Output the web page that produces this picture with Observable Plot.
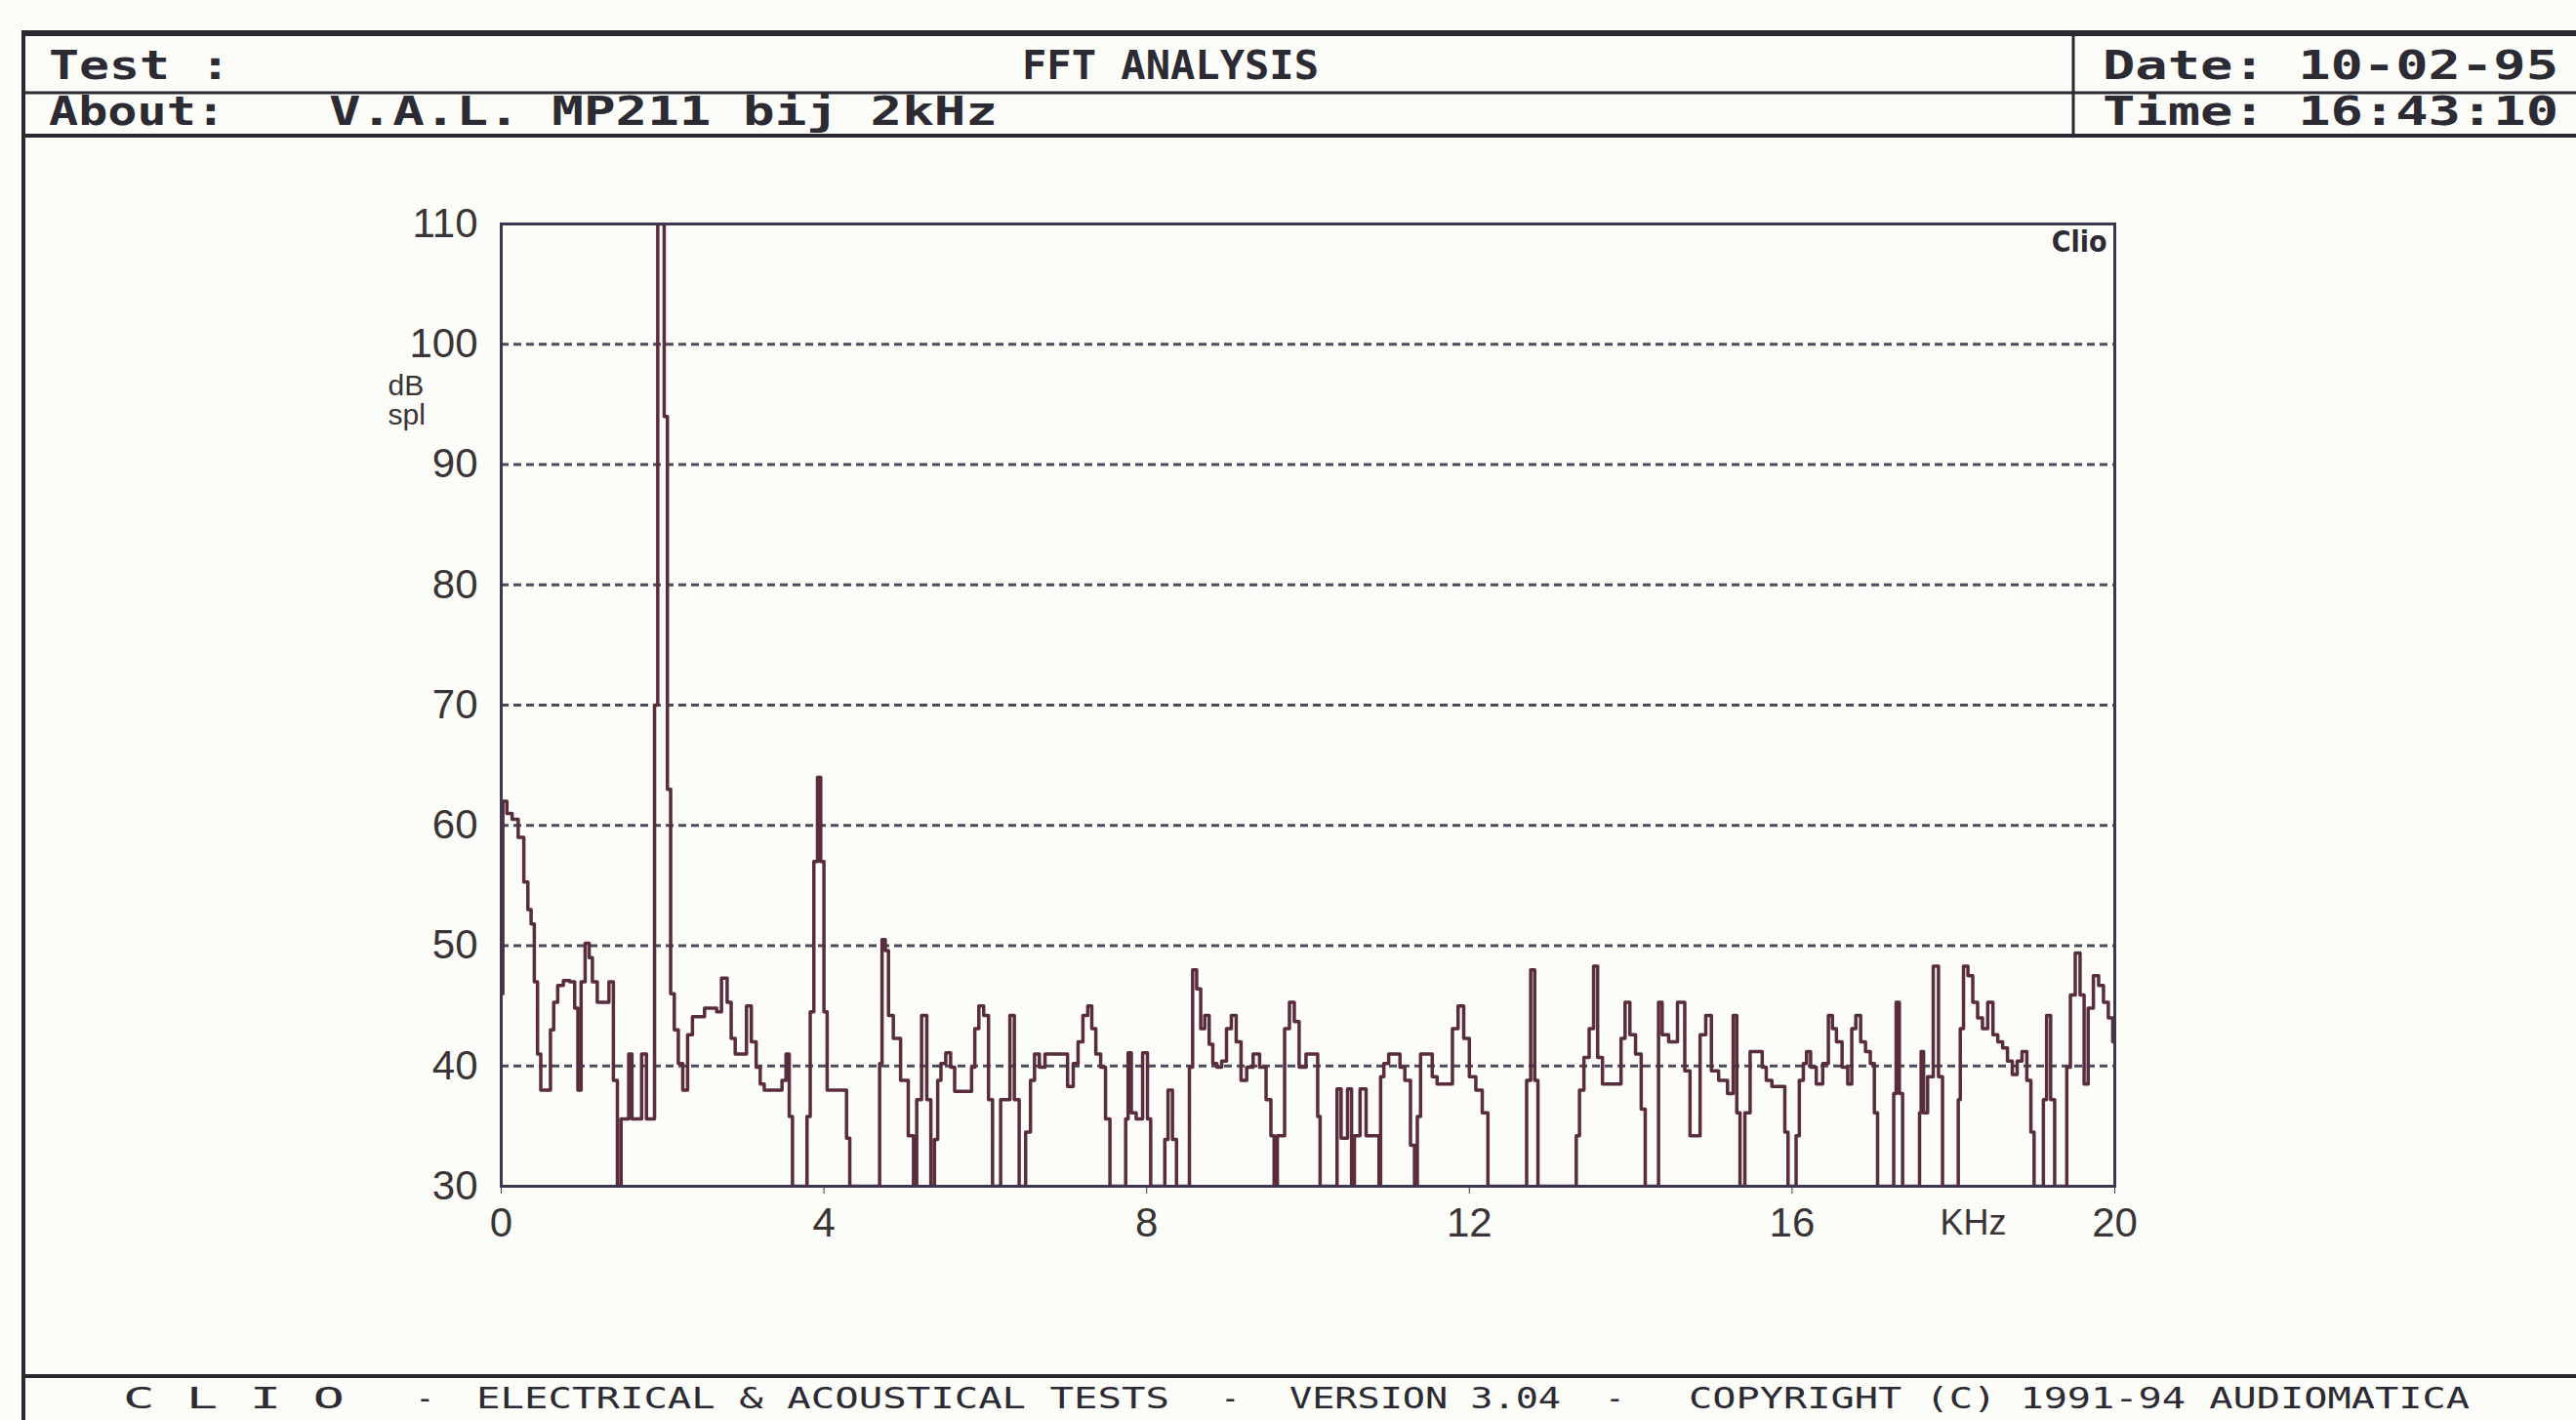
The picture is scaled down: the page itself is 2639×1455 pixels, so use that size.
<!DOCTYPE html>
<html>
<head>
<meta charset="utf-8">
<script src="https://cdn.jsdelivr.net/npm/d3@7"></script>
<script src="https://cdn.jsdelivr.net/npm/@observablehq/plot@0.6"></script>
<style>
  html, body { margin: 0; padding: 0; background: #fcfcf8; }
  #wrap { position: relative; width: 2639px; height: 1455px; overflow: hidden; background: #fcfcf8; }
  #deco { position: absolute; left: 0; top: 0; }
  #chart { position: absolute; left: 0; top: 0; }
  .dos { font-family: "DejaVu Sans Mono", monospace; font-weight: bold; fill: #2c2a33; }
</style>
</head>
<body>
<div id="wrap">
  <svg id="deco" width="2639" height="1455" xmlns="http://www.w3.org/2000/svg">
    <g stroke="#2a2830" fill="none">
      <line x1="22" y1="34" x2="2639" y2="34" stroke-width="6"/>
      <line x1="24" y1="32" x2="24" y2="1455" stroke-width="4"/>
      <line x1="24" y1="95" x2="2639" y2="95" stroke-width="3"/>
      <line x1="24" y1="139" x2="2639" y2="139" stroke-width="4"/>
      <line x1="2124" y1="34" x2="2124" y2="139" stroke-width="3"/>
      <line x1="24" y1="1410" x2="2639" y2="1410" stroke-width="4"/>
    </g>
    <g class="dos" font-size="40">
      <text x="50" y="81" textLength="186" lengthAdjust="spacingAndGlyphs">Test :</text>
      <text x="1047" y="81" textLength="304" lengthAdjust="spacingAndGlyphs">FFT ANALYSIS</text>
      <text x="50" y="128" textLength="181" lengthAdjust="spacingAndGlyphs">About:</text>
      <text x="337" y="128" textLength="685" lengthAdjust="spacingAndGlyphs">V.A.L. MP211 bij 2kHz</text>
      <text x="2154" y="81" textLength="467" lengthAdjust="spacingAndGlyphs">Date: 10-02-95</text>
      <text x="2154" y="128" textLength="467" lengthAdjust="spacingAndGlyphs">Time: 16:43:10</text>
    </g>
    <g class="dos" font-size="31" style="font-weight:normal">
      <text x="126" y="1443" textLength="227" lengthAdjust="spacingAndGlyphs">C L I O</text>
      <text x="426" y="1443">-</text>
      <text x="488" y="1443" textLength="710" lengthAdjust="spacingAndGlyphs">ELECTRICAL &amp; ACOUSTICAL TESTS</text>
      <text x="1251" y="1443">-</text>
      <text x="1321" y="1443" textLength="278" lengthAdjust="spacingAndGlyphs">VERSION 3.04</text>
      <text x="1645" y="1443">-</text>
      <text x="1730" y="1443" textLength="800" lengthAdjust="spacingAndGlyphs">COPYRIGHT (C) 1991-94 AUDIOMATICA</text>
    </g>
  </svg>
  <div id="chart"></div>
</div>
<script>
// Frequency (kHz) and level (dB spl)
const freqKHz = [
  0.00,0.04,0.10,0.17,0.25,0.31,0.35,0.39,0.43,0.47,0.51,0.59,0.63,0.67,0.73,0.81,0.89,0.93,0.97,1.01,
  1.07,1.11,1.15,1.23,1.31,1.36,1.42,1.46,1.51,1.56,1.60,1.64,1.70,1.78,1.82,1.88,1.92,1.96,2.00,2.04,
  2.08,2.12,2.17,2.22,2.28,2.34,2.40,2.48,2.56,2.65,2.69,2.77,2.83,2.87,2.93,3.01,3.07,3.13,3.19,3.23,
  3.29,3.45,3.51,3.55,3.59,3.63,3.77,3.81,3.85,3.90,3.94,3.98,4.02,4.06,4.26,4.30,4.34,4.68,4.70,4.74,
  4.78,4.82,4.90,5.00,5.09,5.13,5.17,5.25,5.30,5.35,5.39,5.43,5.47,5.55,5.59,5.65,5.81,5.85,5.89,5.95,
  6.01,6.07,6.11,6.27,6.34,6.38,6.46,6.54,6.58,6.64,6.70,6.78,6.98,7.06,7.12,7.18,7.24,7.30,7.34,7.40,
  7.46,7.52,7.57,7.73,7.75,7.79,7.83,7.91,7.99,8.03,8.07,8.21,8.24,8.29,8.35,8.39,8.51,8.55,8.59,8.65,
  8.69,8.75,8.80,8.84,8.90,8.96,9.02,9.08,9.14,9.20,9.28,9.36,9.44,9.52,9.56,9.60,9.64,9.68,9.74,9.80,
  9.86,9.92,10.03,10.11,10.13,10.17,10.35,10.37,10.45,10.53,10.55,10.60,10.69,10.75,10.87,10.89,10.91,10.97,11.03,11.12,
  11.16,11.24,11.30,11.34,11.37,11.42,11.52,11.56,11.64,11.76,11.82,11.90,11.96,12.04,12.12,12.20,12.26,12.69,12.73,12.79,
  12.83,12.87,13.31,13.34,13.39,13.45,13.52,13.56,13.62,13.68,13.86,13.90,13.96,14.02,14.10,14.16,14.20,14.33,14.36,14.42,
  14.52,14.64,14.70,14.77,14.83,14.89,14.97,15.03,15.15,15.25,15.29,15.34,15.37,15.46,15.50,15.61,15.65,15.71,15.79,15.89,
  15.93,15.97,16.04,16.06,16.12,16.16,16.20,16.26,16.34,16.42,16.48,16.52,16.58,16.66,16.72,16.76,16.82,16.88,16.94,17.00,
  17.04,17.08,17.25,17.27,17.31,17.35,17.39,17.57,17.59,17.61,17.65,17.71,17.79,17.84,17.89,18.05,18.07,18.10,18.15,18.21,
  18.27,18.33,18.39,18.46,18.52,18.58,18.64,18.70,18.76,18.82,18.88,18.94,18.98,19.02,19.10,19.13,19.18,19.23,19.28,19.39,
  19.42,19.48,19.54,19.60,19.64,19.70,19.77,19.83,19.89,19.95,20.00
];
const levelDB = [
  46,62,61,60.5,59,55.3,53,51.8,47,41,38,38,43,45.3,46.7,47.1,47,44.8,38,47,
  50.2,49,47,45.3,45.3,47,38.8,30,35.6,35.6,41,35.6,35.6,41,35.6,35.6,70,110,110,94,
  63,46,43,40.2,38,42.6,44.1,44.1,44.8,44.8,44.5,47.3,45.3,42.3,41,41,45,42,39.9,38.5,
  38,38,38.8,41,35.8,30,30,35.8,44.5,57,64,57,44.5,38,38,34,30,30,40.2,50.5,
  49.6,44.2,42.3,38.8,34.2,30,37.2,44.2,37.2,30,33.9,38.8,40.2,41.1,39.9,37.9,37.9,39.9,43.1,45,
  44.2,37.2,30,37.2,44.2,37.2,30,34.5,38.8,41,39.9,41,41,38.3,40.2,42,44.2,45,43.1,41,
  39.9,35.6,30,30,35.6,41.1,36.1,35.6,41.1,35.6,30,30,33.9,38,33.9,30,30,39.9,48,46.4,
  43.1,44.2,41.8,40.2,39.9,40.4,43.1,44.2,42,38.8,39.9,41,39.9,37.2,34.2,30,34.2,34.2,43.1,45.3,
  43.7,39.9,41,41,35.8,30,30,38.1,34,38.1,30,34.2,38.1,34.2,34.2,30,39.1,40.2,41,41,
  39.9,38.8,33.4,30,35.8,41,41,39.1,38.5,38.5,43.1,45,42.3,39.1,38,36.1,30,30,38.8,48,
  38.8,30,30,34.2,38,40.7,43.1,48.3,40.7,38.5,38.5,42.3,45.3,42.6,41,36.4,30,30,45.3,42.6,
  42,45.3,39.6,34.2,34.2,42.6,44.2,39.6,38.8,37.7,44.2,36.1,30,36.1,41.2,41.2,39.9,38.8,38.3,38.3,
  34.5,30,30,34.2,38.8,40.2,41.2,39.9,38.5,40.2,44.2,43.1,42,39.9,38.5,43.1,44.2,42,41.2,40.2,
  36.1,30,30,37.7,45.3,37.7,30,30,36.1,41.2,36.1,39.1,48.3,39.1,30,30,37.2,43.1,48.3,47.5,
  45.3,44,43.1,45.3,42.6,42,41.5,40.4,39.3,40.4,41.2,38.8,34.5,30,30,37.2,44.2,37.2,30,30,
  39.9,45.9,49.4,45.9,38.5,44.8,47.5,46.7,45.3,44,42
];
const xTicks = [0, 4, 8, 12, 16, 20];
const yTicks = [30, 40, 50, 60, 70, 80, 90, 100, 110];
const gridLevels = [40, 50, 60, 70, 80, 90, 100];

const spectrum = freqKHz.map((f, i) => ({f, db: levelDB[i]}));

const chart = Plot.plot({
  width: 2639,
  height: 1455,
  marginLeft: 513,
  marginRight: 473,
  marginTop: 229,
  marginBottom: 240,
  style: {background: "transparent", fontFamily: "'Liberation Sans', Arial, sans-serif", fontSize: "42px", color: "#3a3436"},
  x: {domain: [0, 20], label: null},
  y: {domain: [30, 110], label: null},
  marks: [
    Plot.gridY(gridLevels, {stroke: "#4b4a5e", strokeOpacity: 1, strokeWidth: 3, strokeDasharray: "8,5"}),
    Plot.line(spectrum, {x: "f", y: "db", curve: "step", stroke: "#5a2d3d", strokeWidth: 3.5, clip: true}),
    Plot.frame({stroke: "#3d3850", strokeWidth: 3}),
    Plot.axisX({ticks: xTicks, tickSize: 8, tickPadding: 14, tickFormat: d => String(d), label: null, fontSize: 42, stroke: "#3d3850"}),
    Plot.axisY({ticks: yTicks, tickSize: 0, tickPadding: 24, tickFormat: d => String(d), label: null, fontSize: 42}),
    Plot.text(["KHz"], {frameAnchor: "bottom-right", textAnchor: "end", lineAnchor: "top", dx: -111, dy: 24, fontSize: 36, fill: "#3a3436"}),
    Plot.text(["dB\nspl"], {frameAnchor: "top-left", textAnchor: "start", lineAnchor: "top", dx: -116, dy: 154, fontSize: 30, lineHeight: 1.0, fill: "#3a3436"}),
    Plot.text(["Clio"], {frameAnchor: "top-right", textAnchor: "end", lineAnchor: "top", dx: -8, dy: 7, fontSize: 30, fontWeight: "bold", fill: "#2e2a33", fontFamily: "'DejaVu Sans Condensed', 'DejaVu Sans', sans-serif"})
  ]
});
document.getElementById("chart").appendChild(chart);
</script>
</body>
</html>
